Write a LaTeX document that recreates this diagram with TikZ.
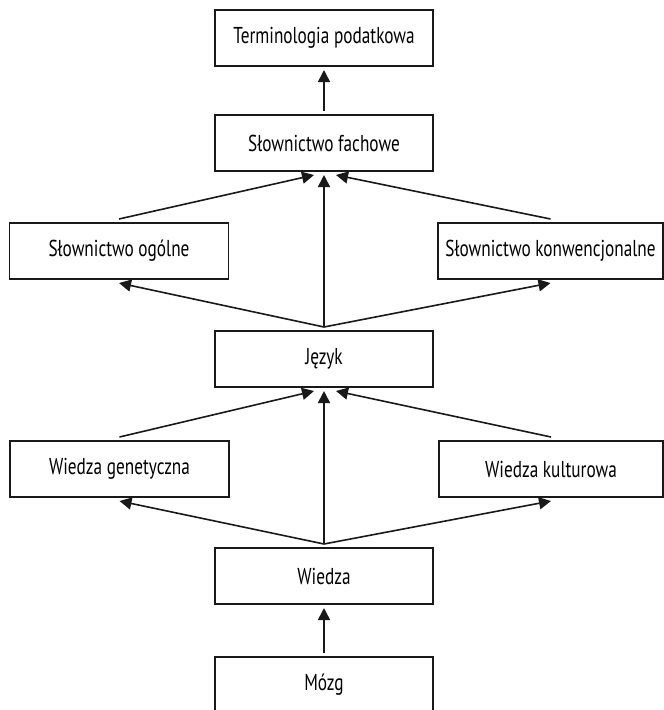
\documentclass[tikz,border=0pt]{standalone}
\usepackage{fontspec}
\setmainfont[FakeStretch=0.75]{PT Sans}
\usepackage{tikz}
\usetikzlibrary{arrows.meta, positioning}

\begin{document}
\begin{tikzpicture}[
  >={Triangle[length=12pt,width=12pt]},
  box/.style={rectangle, draw=black!90, line width=1.6pt, fill=white, minimum width=218pt, minimum height=56pt, inner sep=0pt, outer sep=4pt, text centered, font=\fontsize{23}{26}\selectfont},
  arrow/.style={line width=1.6pt, ->, draw=black!90}
]
\useasboundingbox (-324pt,38pt) rectangle (340pt,-672pt);

% Upper part
\node[box] (term) {Terminologia podatkowa};
\node[box, below=41pt of term] (fachowe) {Słownictwo fachowe};
\node[box, below=44pt of fachowe, xshift=-205pt, minimum width=219pt] (ogolne) {Słownictwo ogólne};
\node[box, below=44pt of fachowe, xshift=226.5pt, minimum width=225pt] (konw) {Słownictwo konwencjonalne};
\node[box, below=152pt of fachowe] (jezyk) {Język};

% Lower part
\node[box, below=46pt of jezyk, xshift=-204.5pt, minimum width=219pt] (genet) {Wiedza genetyczna};
\node[box, below=46pt of jezyk, xshift=227pt, minimum width=224pt] (kult) {Wiedza kulturowa};
\node[box, below=153pt of jezyk] (wiedza) {Wiedza};
\node[box, below=45pt of wiedza] (mozg) {Mózg};

% Arrows
\draw[arrow] (fachowe) -- (term);
\draw[arrow] (jezyk.north) -- (fachowe.south);
\draw[arrow] (jezyk.north) -- (ogolne.south);
\draw[arrow] (jezyk.north) -- (konw.south);
\draw[arrow] (ogolne.north) -- ([xshift=-10pt]fachowe.south);
\draw[arrow] (konw.north) -- ([xshift=12pt]fachowe.south);

\draw[arrow] (wiedza.north) -- (jezyk.south);
\draw[arrow] (wiedza.north) -- (genet.south);
\draw[arrow] (wiedza.north) -- (kult.south);
\draw[arrow] (genet.north) -- ([xshift=-10pt]jezyk.south);
\draw[arrow] (kult.north) -- ([xshift=12pt]jezyk.south);
\draw[arrow] (mozg) -- (wiedza);

\end{tikzpicture}
\end{document}
